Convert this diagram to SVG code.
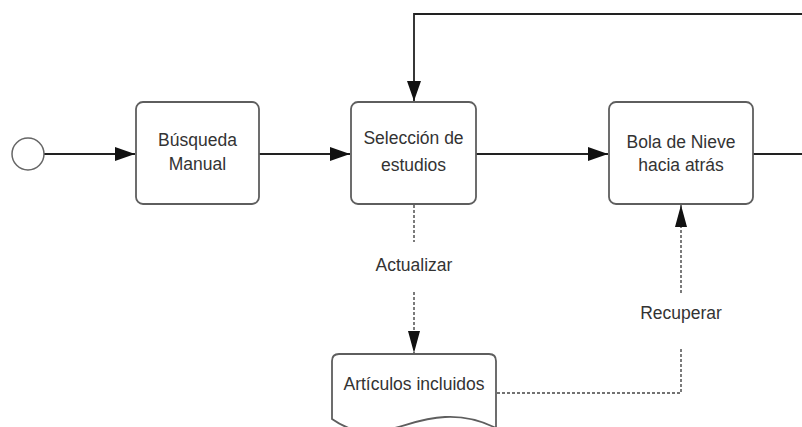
<svg xmlns="http://www.w3.org/2000/svg" width="802" height="427" viewBox="0 0 802 427">
<style>
.box{fill:#fff;stroke:#5e5e5e;stroke-width:1.8}
.lbl{font-family:"Liberation Sans",Arial,sans-serif;font-size:17.5px;fill:#333;text-anchor:middle}
.ln{fill:none;stroke:#222;stroke-width:1.8}
.dot{fill:none;stroke:#444;stroke-width:1.4;stroke-dasharray:3,2}
</style>
<defs>
<marker id="ah" markerWidth="20" markerHeight="14" refX="20" refY="7" orient="auto" markerUnits="userSpaceOnUse">
<path d="M0,0 L20,7 L0,14 Z" fill="#111"/>
</marker>
<marker id="ahd" markerWidth="22" markerHeight="12" refX="22" refY="6" orient="auto" markerUnits="userSpaceOnUse">
<path d="M0,0 L22,6 L0,12 Z" fill="#111"/>
</marker>
</defs>
<rect width="802" height="427" fill="#fff"/>
<g id="connectors">
<line class="ln" x1="44" y1="154" x2="135" y2="154" marker-end="url(#ah)"/>
<line class="ln" x1="259" y1="154" x2="350" y2="154" marker-end="url(#ah)"/>
<line class="ln" x1="476" y1="154" x2="608" y2="154" marker-end="url(#ah)"/>
<polyline class="ln" points="753,154 802,154"/>
<polyline class="ln" points="802,14 414,14 414,101" marker-end="url(#ah)" stroke="#555" stroke-width="2.6"/>
<line class="dot" x1="414" y1="205" x2="414" y2="242"/>
<line class="dot" x1="414" y1="292" x2="414" y2="353" marker-end="url(#ahd)"/>
<polyline class="dot" points="497,393 681,393 681,347"/>
<line class="dot" x1="681" y1="293" x2="681" y2="205" marker-end="url(#ahd)"/>
<text class="lbl" x="414" y="271">Actualizar</text>
<text class="lbl" x="681" y="319">Recuperar</text>
</g>
<g id="start"><circle cx="28" cy="154" r="16" fill="#fff" stroke="#666" stroke-width="1.5"/></g>
<g id="busqueda">
<rect class="box" x="136" y="102" width="123" height="102" rx="7"/>
<text class="lbl" x="197.5" y="146">Búsqueda</text>
<text class="lbl" x="197.5" y="170">Manual</text>
</g>
<g id="seleccion">
<rect class="box" x="351" y="102" width="125" height="102" rx="7"/>
<text class="lbl" x="413.5" y="144">Selección de</text>
<text class="lbl" x="413.5" y="171">estudios</text>
</g>
<g id="bola">
<rect class="box" x="609" y="102" width="144" height="102" rx="7"/>
<text class="lbl" x="681" y="148">Bola de Nieve</text>
<text class="lbl" x="681" y="171">hacia atrás</text>
</g>
<g id="articulos">
<path class="box" d="M332,361 Q332,354 339,354 H489 Q496,354 496,361 V428 C480,420 465,416 445,417 C415,418 395,432 370,432 C355,432 342,426 332,419 Z"/>
<text class="lbl" x="414" y="390">Artículos incluidos</text>
</g>
</svg>
